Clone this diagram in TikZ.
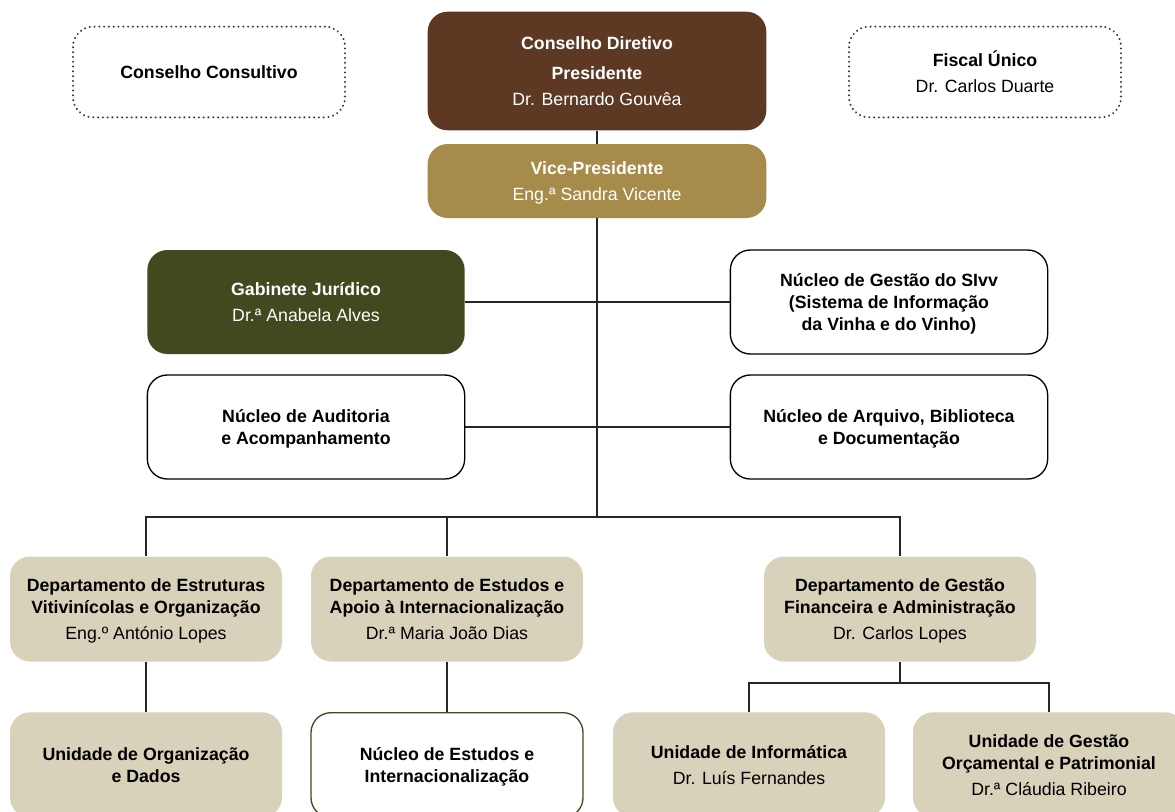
\documentclass[tikz,border=0pt]{standalone}
\usepackage{fontspec}
\setmainfont{Liberation Sans}
\definecolor{chestnut}{RGB}{93, 57, 36}
\definecolor{ochre}{RGB}{166, 139, 75}
\definecolor{moss}{RGB}{67, 73, 31}
\definecolor{sand}{RGB}{217, 210, 186}
\usetikzlibrary{positioning, calc}

\begin{document}
\begin{tikzpicture}[
        x=0.75pt, y=-0.75pt,
        unit/.style={rectangle, rounded corners=15pt, align=center, inner sep=2pt,
            font=\fontsize{13.3}{16.5}\selectfont, text depth=-5pt},
        board/.style={unit, fill=chestnut, text=white, minimum width=254pt, minimum height=89pt},
        vicebox/.style={unit, fill=ochre, text=white, minimum width=254pt, minimum height=55.5pt},
        staff/.style={unit, minimum width=238pt, minimum height=78pt},
        dept/.style={unit, fill=sand, minimum width=204pt, minimum height=78.75pt},
        outer/.style={unit, draw=moss!90!black, line width=1.6pt, dash pattern=on 0.1pt off 3.5pt,
            line cap=round, minimum width=204pt, minimum height=68pt},
        conn/.style={draw=black!85, line width=0.8pt}
    ]
        \clip (0,0) rectangle (1175,811);
        \fill[white] (0,0) rectangle (1175,811);

        % Top row: advisory bodies and board
        \node[outer] (cons) at (209,72) {\textbf{Conselho Consultivo}};
        \node[board] (dir) at (597,71) {\textbf{Conselho Diretivo}\\[6pt]
            \textbf{Presidente}\\[3pt] Dr. Bernardo Gouvêa};
        \node[outer] (fiscal) at (985,72) {\textbf{Fiscal Único}\\[3pt] Dr. Carlos Duarte};
        \node[vicebox] (vice) at (597,181) {\textbf{Vice-Presidente}\\[3pt] Eng.ª Sandra Vicente};

        % Support units
        \node[staff, fill=moss, text=white] (gab) at (306,302) {\textbf{Gabinete Jurídico}\\[3pt] Dr.ª Anabela Alves};
        \node[staff, draw=black, line width=1pt] (sivv) at (889,302) {\textbf{Núcleo de Gestão do SIvv}\\
            \textbf{(Sistema de Informação}\\ \textbf{da Vinha e do Vinho)}};
        \node[staff, draw=black, line width=1pt] (audit) at (306,427) {\textbf{Núcleo de Auditoria}\\
            \textbf{e Acompanhamento}};
        \node[staff, draw=black, line width=1pt] (arq) at (889,427) {\textbf{Núcleo de Arquivo, Biblioteca}\\
            \textbf{e Documentação}};

        % Departments
        \node[dept] (dest) at (146,609) {\textbf{Departamento de Estruturas}\\
            \textbf{Vitivinícolas e Organização}\\[3pt] Eng.º António Lopes};
        \node[dept] (dapoio) at (447,609) {\textbf{Departamento de Estudos e}\\
            \textbf{Apoio à Internacionalização}\\[3pt] Dr.ª Maria João Dias};
        \node[dept] (dgfa) at (900,609) {\textbf{Departamento de Gestão}\\
            \textbf{Financeira e Administração}\\[3pt] Dr. Carlos Lopes};

        % Units below the departments
        \node[dept, anchor=north] (uod) at (146,712) {\textbf{Unidade de Organização}\\ \textbf{e Dados}};
        \node[dept, anchor=north, fill=white, draw=moss, line width=1pt] (nei) at (447,712)
            {\textbf{Núcleo de Estudos e}\\ \textbf{Internacionalização}};
        \node[dept, anchor=north] (uinf) at (749,712) {\textbf{Unidade de Informática}\\[3pt] Dr. Luís Fernandes};
        \node[dept, anchor=north] (ugop) at (1049,712) {\textbf{Unidade de Gestão}\\
            \textbf{Orçamental e Patrimonial}\\[3pt] Dr.ª Cláudia Ribeiro};

        % Connectors
        \coordinate (split) at (597,517);
        \coordinate (gsplit) at (900,683);
        \draw[conn] (dir) -- (vice);
        \draw[conn] (vice) -- (split);
        \draw[conn] (gab) -- (sivv);
        \draw[conn] (audit) -- (arq);
        \draw[conn] (dest.north) |- (split) -| (dgfa.north);
        \draw[conn] (dapoio.north) -- (dapoio.north |- split);
        \draw[conn] (dest) -- (uod);
        \draw[conn] (dapoio) -- (nei);
        \draw[conn] (dgfa) -- (gsplit);
        \draw[conn] (uinf.north) |- (gsplit) -| (ugop.north);
    \end{tikzpicture}
\end{document}
